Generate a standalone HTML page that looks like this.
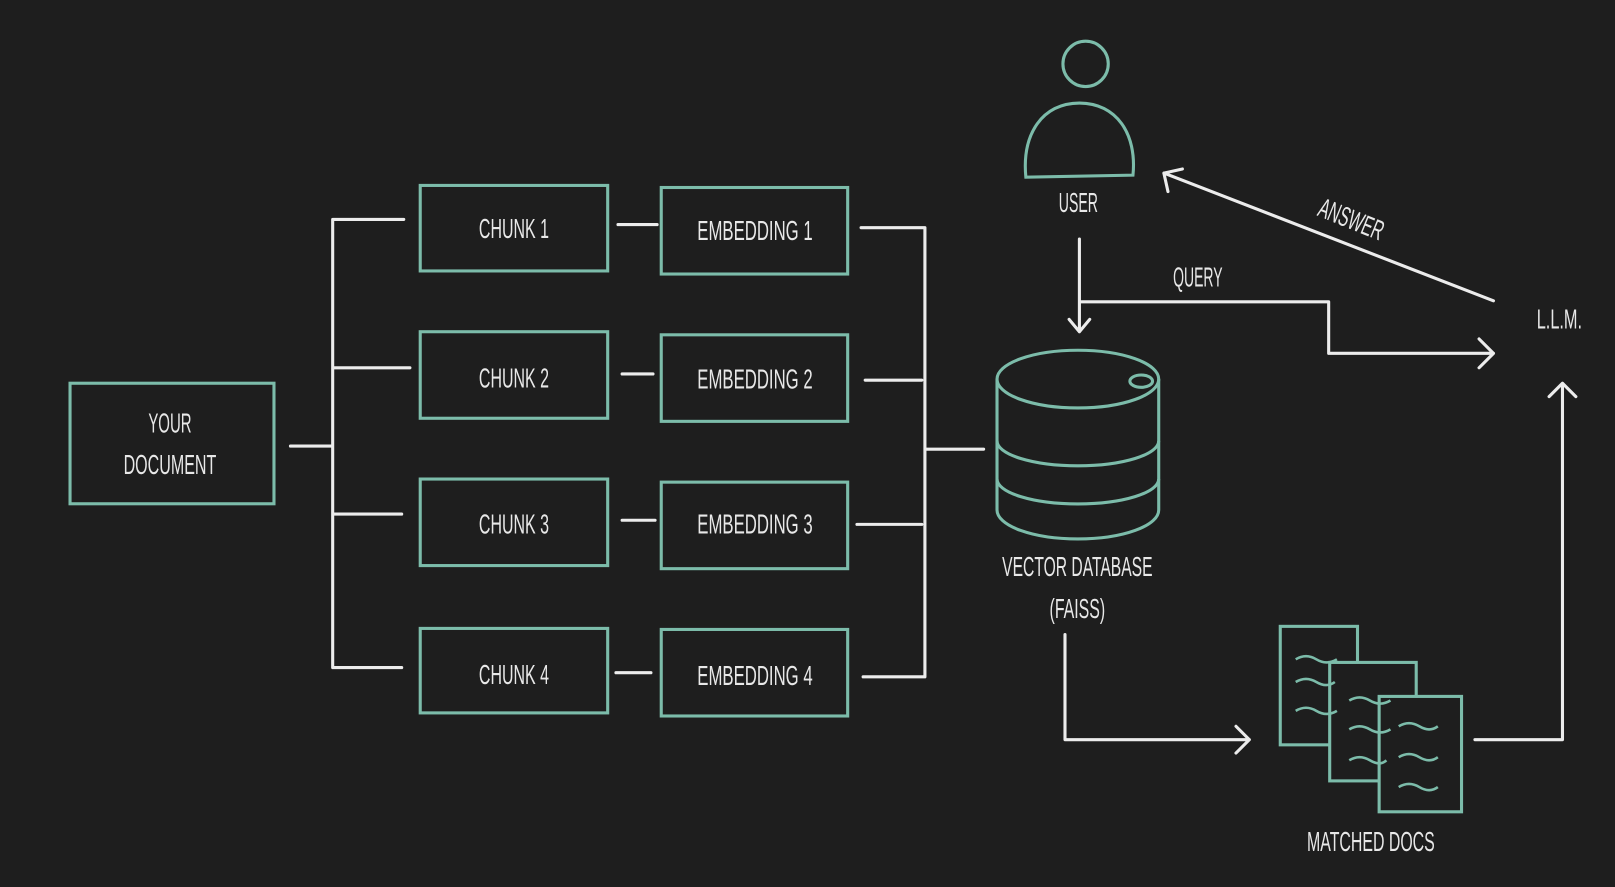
<!DOCTYPE html>
<html><head><meta charset="utf-8"><style>
html,body{margin:0;padding:0;background:#1e1e1e;}
svg{display:block;}
text{font-family:"Liberation Sans Narrow","Liberation Sans",sans-serif;fill:#e8e8e8;font-size:27px;text-anchor:middle;}
</style></head><body>
<svg width="1615" height="887" viewBox="0 0 1568 861" preserveAspectRatio="none" xmlns="http://www.w3.org/2000/svg">
<rect x="0" y="0" width="1568" height="861" fill="#1e1e1e"/>
<g fill="none" stroke="#7cbcaa" stroke-width="3">
<rect x="68" y="372" width="198" height="117"/>
<rect x="408" y="180" width="182" height="83"/>
<rect x="408" y="322" width="182" height="84"/>
<rect x="408" y="465" width="182" height="84"/>
<rect x="408" y="610" width="182" height="82"/>
<rect x="642" y="182" width="181" height="84"/>
<rect x="642" y="325" width="181" height="84"/>
<rect x="642" y="468" width="181" height="84"/>
<rect x="642" y="611" width="181" height="84"/>
</g>
<g fill="none" stroke="#ececec" stroke-width="3" stroke-linecap="round" stroke-linejoin="round">
<path d="M282 433H323M323 213V648M323 213H392M323 357H398M323 499H390M323 648H390"/>
<path d="M600 218H638M604 363H634M604 505H636M598 653H632"/>
<path d="M836 221H898M840 369H895M832 509H895M838 657H898M898 221V657M898 436H955"/>
<path d="M1048 232V322M1038 310L1048 322L1058 310"/>
<path d="M1050 293H1290V343H1450M1436 329L1450 343L1436 357"/>
<path d="M1450 292L1130 168M1134 186L1130 168L1148 164"/>
<path d="M1034 616V718H1213M1200 705L1213 718L1200 731"/>
<path d="M1432 718H1517V372M1504 385L1517 372L1530 385"/>
</g>
<!-- cylinder -->
<g fill="none" stroke="#7cbcaa" stroke-width="3">
<path d="M968 368V495A78 28 0 0 0 1125 495V368"/>
<ellipse cx="1046.5" cy="368" rx="78.5" ry="28"/>
<path d="M968 428A78 24 0 0 0 1125 428"/>
<path d="M968 465A78 24 0 0 0 1125 465"/>
<ellipse cx="1108" cy="370" rx="11" ry="6"/>
<!-- user -->
<circle cx="1054" cy="62" r="22"/>
<path d="M996 172C992 130 1012 100 1048 100C1084 100 1104 130 1100 170Z"/>
</g>
<!-- docs -->
<g stroke="#7cbcaa" stroke-width="3" fill="#1e1e1e">
<rect x="1243" y="608" width="75" height="115"/>
<rect x="1291" y="643" width="84" height="115"/>
<rect x="1339" y="676" width="80" height="112"/>
</g>
<g fill="none" stroke="#7cbcaa" stroke-width="2.5">
<path d="M1258 640q10-6 20 0t20 0M1258 662q10-6 20 0t18 0M1258 690q10-6 20 0t20 0"/>
<path d="M1310 680q10-6 20 0t20 0M1310 708q10-6 20 0t20 0M1310 738q10-6 20 0t16 0"/>
<path d="M1358 705q10-6 20 0t18 0M1358 735q10-6 20 0t18 0M1358 764q10-6 20 0t18 0"/>
</g>
<text x="165" y="420" textLength="42" lengthAdjust="spacingAndGlyphs">YOUR</text>
<text x="165" y="460" textLength="90" lengthAdjust="spacingAndGlyphs">DOCUMENT</text>
<text x="499" y="231" textLength="68" lengthAdjust="spacingAndGlyphs">CHUNK 1</text>
<text x="499" y="376" textLength="68" lengthAdjust="spacingAndGlyphs">CHUNK 2</text>
<text x="499" y="518" textLength="68" lengthAdjust="spacingAndGlyphs">CHUNK 3</text>
<text x="499" y="664" textLength="68" lengthAdjust="spacingAndGlyphs">CHUNK 4</text>
<text x="733" y="233" textLength="112" lengthAdjust="spacingAndGlyphs">EMBEDDING 1</text>
<text x="733" y="377" textLength="112" lengthAdjust="spacingAndGlyphs">EMBEDDING 2</text>
<text x="733" y="518" textLength="112" lengthAdjust="spacingAndGlyphs">EMBEDDING 3</text>
<text x="733" y="665" textLength="112" lengthAdjust="spacingAndGlyphs">EMBEDDING 4</text>
<text x="1046" y="559" textLength="146" lengthAdjust="spacingAndGlyphs">VECTOR DATABASE</text>
<text x="1046" y="600" textLength="54" lengthAdjust="spacingAndGlyphs">(FAISS)</text>
<text x="1047" y="206" textLength="38" lengthAdjust="spacingAndGlyphs">USER</text>
<text x="1163" y="278" textLength="48" lengthAdjust="spacingAndGlyphs">QUERY</text>
<text x="1312" y="222" textLength="66" lengthAdjust="spacingAndGlyphs" transform="rotate(22 1312 213)">ANSWER</text>
<text x="1514" y="319" textLength="44" lengthAdjust="spacingAndGlyphs">L.L.M.</text>
<text x="1331" y="826" textLength="124" lengthAdjust="spacingAndGlyphs">MATCHED DOCS</text>
</svg>
</body></html>
